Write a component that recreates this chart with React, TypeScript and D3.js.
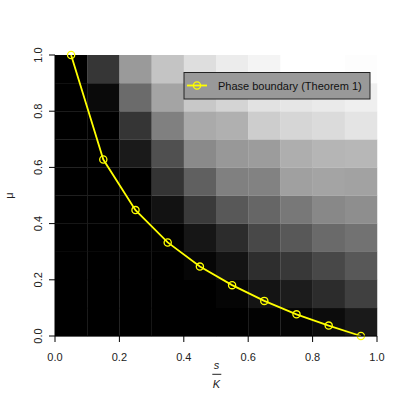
import React from "react";
import * as d3 from "d3";

// ---- data ----
const sCenters = [0.05, 0.15, 0.25, 0.35, 0.45, 0.55, 0.65, 0.75, 0.85, 0.95];
const muCenters = [0.05, 0.15, 0.25, 0.35, 0.45, 0.55, 0.65, 0.75, 0.85, 0.95];
// grey intensity (0 = black, 255 = white), one row per mu (bottom to top)
const intensity: number[][] = [
  [0, 0, 0, 0, 0, 0, 2, 5, 12, 26],
  [0, 0, 0, 0, 0, 5, 20, 28, 44, 64],
  [0, 0, 0, 0, 6, 20, 46, 56, 72, 88],
  [0, 0, 0, 2, 22, 44, 72, 88, 106, 114],
  [0, 0, 0, 18, 58, 88, 102, 120, 136, 142],
  [0, 0, 0, 52, 96, 128, 130, 160, 164, 162],
  [0, 0, 26, 80, 138, 152, 156, 174, 181, 183],
  [0, 0, 53, 128, 170, 176, 205, 214, 219, 228],
  [0, 10, 107, 164, 200, 212, 226, 230, 234, 239],
  [0, 54, 154, 196, 222, 236, 244, 255, 255, 253],
];
const boundaryS = [0.05, 0.15, 0.25, 0.35, 0.45, 0.55, 0.65, 0.75, 0.85, 0.95];
const boundaryMu = [1.0, 0.628, 0.448, 0.333, 0.247, 0.181, 0.125, 0.077, 0.037, 0.0];
const tickValues = [0, 0.2, 0.4, 0.6, 0.8, 1.0];
const legendLabel = "Phase boundary (Theorem 1)";

export default function App() {
  const W = 405, H = 405;
  const left = 55, right = 377, top = 55, bottom = 336;
  const x = d3.scaleLinear().domain([0, 1]).range([left, right]);
  const y = d3.scaleLinear().domain([0, 1]).range([bottom, top]);
  const grey = d3.scaleLinear<string>().domain([0, 255]).range(["#000000", "#ffffff"]);
  const cellW = 0.1, cellH = 0.1;
  const line = d3.line<number>().x((_, i) => x(boundaryS[i])).y((d) => y(d));
  const font = "Liberation Sans, Arial, Helvetica, sans-serif";
  const fmt = d3.format(".1f");

  const cells: React.ReactNode[] = [];
  intensity.forEach((row, ri) => {
    row.forEach((v, ci) => {
      const x0 = x(sCenters[ci] - cellW / 2), x1 = x(sCenters[ci] + cellW / 2);
      const y0 = y(muCenters[ri] + cellH / 2), y1 = y(muCenters[ri] - cellH / 2);
      cells.push(
        <rect key={`${ri}-${ci}`} x={x0} y={y0} width={x1 - x0 + 0.25} height={y1 - y0 + 0.25}
          fill={grey(v)} />
      );
    });
  });

  return (
    <svg width={W} height={H} style={{ position: "absolute", left: 0, top: 0, background: "#fff" }}
      fontFamily={font}>
      <rect x={0} y={0} width={W} height={H} fill="#fff" />
      <g>{cells}</g>
      {/* boundary line */}
      <path d={line(boundaryMu) || ""} fill="none" stroke="#ffff00" strokeWidth={1.8} />
      {boundaryMu.map((m, i) => (
        <circle key={i} cx={x(boundaryS[i])} cy={y(m)} r={3.6} fill="none" stroke="#ffff00" strokeWidth={1.3} />
      ))}
      {/* x axis */}
      <line x1={x(0)} x2={x(1)} y1={bottom} y2={bottom} stroke="#000" />
      {tickValues.map((t) => (
        <g key={`xt${t}`}>
          <line x1={x(t)} x2={x(t)} y1={bottom} y2={bottom + 6} stroke="#000" />
          <text x={x(t)} y={360.5} textAnchor="middle" fontSize={11} fill="#222">{fmt(t)}</text>
        </g>
      ))}
      {/* y axis */}
      <line x1={left} x2={left} y1={y(0)} y2={y(1)} stroke="#000" />
      {tickValues.map((t) => (
        <g key={`yt${t}`}>
          <line x1={left} x2={left - 6} y1={y(t)} y2={y(t)} stroke="#000" />
          <text transform={`translate(41.5,${y(t)}) rotate(-90)`} textAnchor="middle" fontSize={11} fill="#222">{fmt(t)}</text>
        </g>
      ))}
      {/* axis labels */}
      <text x={216.5} y={368.5} textAnchor="middle" fontSize={11} fontStyle="italic" fill="#222">s</text>
      <line x1={212.3} x2={221.3} y1={374.3} y2={374.3} stroke="#222" strokeWidth={1} />
      <text x={216.5} y={387.5} textAnchor="middle" fontSize={11} fontStyle="italic" fill="#222">K</text>
      <text transform={`translate(12.7,${(top + bottom) / 2}) rotate(-90)`} textAnchor="middle" fontSize={11} fill="#222">μ</text>
      {/* legend */}
      <rect x={184} y={72.5} width={186} height={26.5} fill="#999999" stroke="#222" strokeWidth={1} />
      <line x1={187} x2={207} y1={85.5} y2={85.5} stroke="#ffff00" strokeWidth={1.8} />
      <circle cx={197} cy={85.5} r={3.6} fill="none" stroke="#ffff00" strokeWidth={1.3} />
      <text x={218} y={89.5} fontSize={11} fill="#111">{legendLabel}</text>
    </svg>
  );
}
